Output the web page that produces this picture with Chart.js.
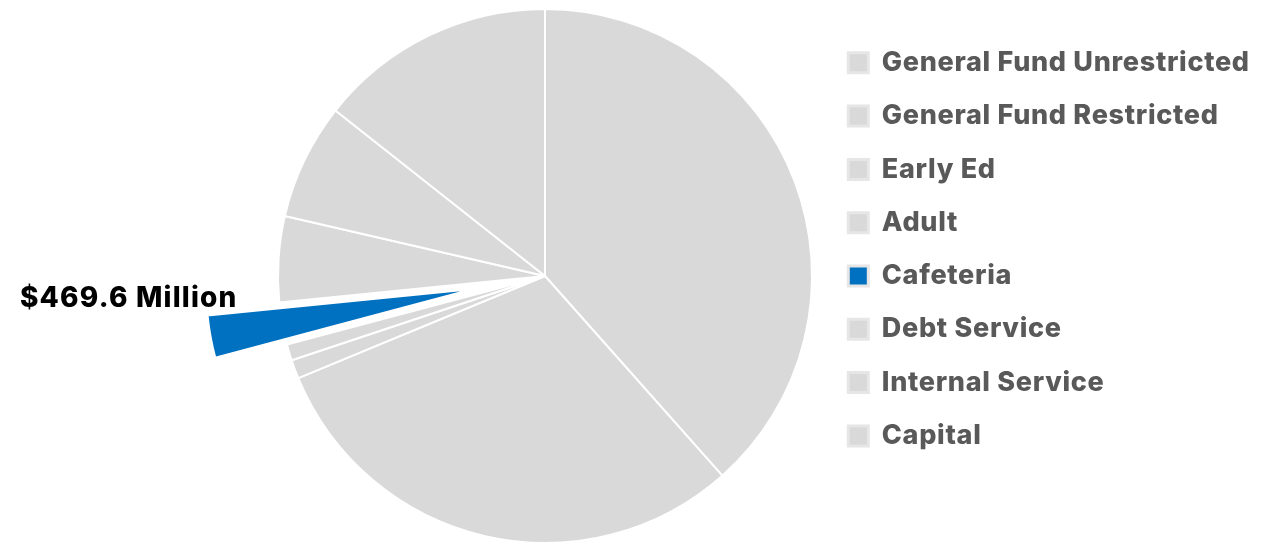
<!DOCTYPE html>
<html>
<head>
<meta charset="utf-8">
<script src="https://cdn.jsdelivr.net/npm/chart.js@4.4.0/dist/chart.umd.min.js"></script>
<style>
  html, body { margin: 0; padding: 0; background: #fff; }
  #wrap { width: 1263px; height: 547px; }
</style>
</head>
<body>
<div id="wrap"><canvas id="fundChart" width="1263" height="547"></canvas></div>
<script>
// budget by fund, in millions of dollars
const funds = [
    'General Fund Unrestricted',
    'General Fund Restricted',
    'Early Ed',
    'Adult',
    'Cafeteria',
    'Debt Service',
    'Internal Service',
    'Capital'
];
const amounts = [7064, 5569, 209, 179, 469.6, 954, 1291, 2639];
const highlightFund = 'Cafeteria';
const highlightLabel = '$469.6 Million';

const GRAY = '#d9d9d9';
const BLUE = '#0070c0';
const FONT = 'Inter, "Open Sans", sans-serif';
const LEGEND_LEFT = 822;   // x where the legend column starts

const highlightIndex = funds.indexOf(highlightFund);
const sliceColors = funds.map((f, i) => i === highlightIndex ? BLUE : GRAY);

// slightly wider lettering for all canvas text
const spacing = {
    id: 'spacing',
    beforeUpdate(chart) { chart.ctx.letterSpacing = '0.7px'; },
    beforeDraw(chart) { chart.ctx.letterSpacing = '0.7px'; }
};

// pulls the highlighted slice out of the pie, keeping its radius
const explodeSlice = {
    id: 'explodeSlice',
    afterDatasetUpdate(chart, args) {
        const arc = args.meta.data[highlightIndex];
        if (!arc) return;
        const mid = (arc.startAngle + arc.endAngle) / 2;
        const dist = arc.outerRadius * 0.273;
        arc.x += Math.cos(mid) * dist;
        arc.y += Math.sin(mid) * dist;
    }
};

// amount label next to the pulled-out slice
const sliceLabel = {
    id: 'sliceLabel',
    afterDatasetsDraw(chart) {
        const arc = chart.getDatasetMeta(0).data[highlightIndex];
        if (!arc) return;
        const ctx = chart.ctx;
        const px = arc.x + Math.cos(arc.endAngle) * arc.outerRadius;
        const py = arc.y + Math.sin(arc.endAngle) * arc.outerRadius;
        ctx.save();
        ctx.letterSpacing = '1.2px';
        ctx.font = `800 28px ${FONT}`;
        ctx.fillStyle = '#000';
        ctx.textAlign = 'right';
        ctx.textBaseline = 'alphabetic';
        ctx.fillText(highlightLabel, px + 30, py - 8);
        ctx.restore();
    }
};

const defaultLabels = Chart.overrides.pie.plugins.legend.labels.generateLabels;

const chart = new Chart(document.getElementById('fundChart'), {
    type: 'pie',
    data: {
        labels: funds,
        datasets: [{
            data: amounts,
            backgroundColor: sliceColors,
            borderColor: '#ffffff',
            borderWidth: 2,
            radius: 267
        }]
    },
    options: {
        responsive: false,
        animation: false,
        layout: {
            padding: { left: 268, right: 0, top: 23, bottom: 18 }
        },
        plugins: {
            tooltip: { enabled: false },
            legend: {
                position: 'right',
                align: 'start',
                labels: {
                    color: '#595959',
                    font: { family: FONT, size: 27, weight: 800 },
                    boxWidth: 20,
                    boxHeight: 20,
                    padding: 26.3,
                    generateLabels(chart) {
                        return defaultLabels(chart).map(item => {
                            item.strokeStyle = '#e6e6e6';
                            item.lineWidth = 3;
                            return item;
                        });
                    }
                }
            }
        }
    },
    plugins: [spacing, explodeSlice, sliceLabel]
});

// move the legend column in from the right edge so the pie sits where wanted
chart.options.layout.padding.right = Math.max(0, chart.legend.left - LEGEND_LEFT);
chart.update();
</script>
</body>
</html>
